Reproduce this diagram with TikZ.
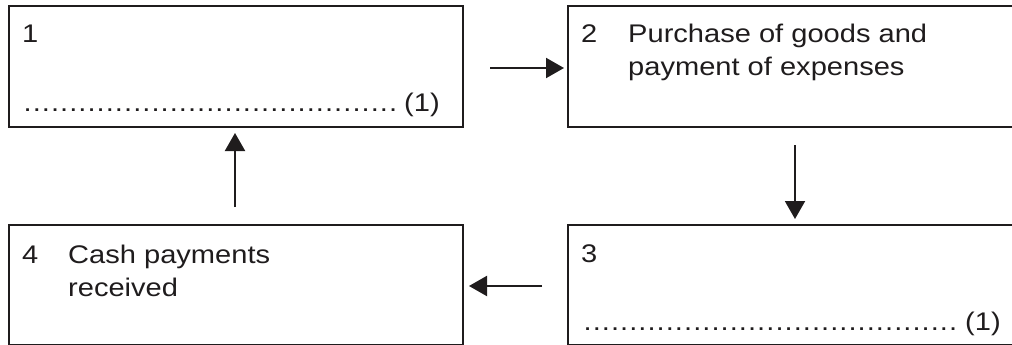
\documentclass[tikz,border=0pt]{standalone}
\usepackage{fontspec}
\setmainfont{Liberation Sans}[FakeStretch=1.14]
\usetikzlibrary{arrows.meta}
\definecolor{ink}{HTML}{1F1C1D}
% a row of answer dots, set as evenly spread full stops
\newcommand\answerdots{\hbox to 374.6pt{\xleaders\hbox to 8.92pt{\hss.\hss}\hfill}}
\begin{document}
\begin{tikzpicture}[x=1pt,y=-1pt,
  box/.style={draw=ink,line width=2pt,inner sep=0pt,anchor=north west,rectangle},
  txt/.style={text=ink,inner sep=0pt,anchor=base west,font=\fontsize{25.5}{33}\selectfont},
  arr/.style={draw=ink,line width=2pt,-{Triangle[length=18pt 0 0,width=20pt 0 0]}}]
\useasboundingbox (0,0) rectangle (1012,345);

% the four stages of the cycle
\node[box,minimum width=454pt,minimum height=121pt] (b1) at (8,5) {};
\node[box,minimum width=470pt,minimum height=121pt] (b2) at (567,5) {};
\node[box,minimum width=470pt,minimum height=120pt] (b3) at (567,224) {};
\node[box,minimum width=454pt,minimum height=120pt] (b4) at (8,224) {};

% stage 1
\node[txt] (n1) at (22,43) {1};
\node[txt] (d1) at (22.8,111) {\answerdots};
\node[txt] (m1) at (404,111) {(1)};

% stage 2
\node[txt] (n2) at (581,43) {2};
\node[txt] (t2) at (628,43) {\vtop{\hbox{Purchase of goods and}\hbox{payment of expenses}}};

% stage 3
\node[txt] (n3) at (581,262) {3};
\node[txt] (d3) at (582.8,330) {\answerdots};
\node[txt] (m3) at (965,330) {(1)};

% stage 4
\node[txt] (n4) at (22,263) {4};
\node[txt] (t4) at (68,263) {\vtop{\hbox{Cash payments}\hbox{received}}};

% arrows round the cycle
\draw[arr] ([shift={(26,1.5)}]b1.east) -- ([shift={(-3,1.5)}]b2.west);
\draw[arr] ([shift={(228,17)}]b2.south west) -- ([shift={(228,-5)}]b3.north west);
\draw[arr] ([shift={(-25,1)}]b3.west) -- ([shift={(5,1)}]b4.east);
\draw[arr] ([shift={(227,-17)}]b4.north west) -- ([shift={(227,5)}]b1.south west);
\end{tikzpicture}
\end{document}
